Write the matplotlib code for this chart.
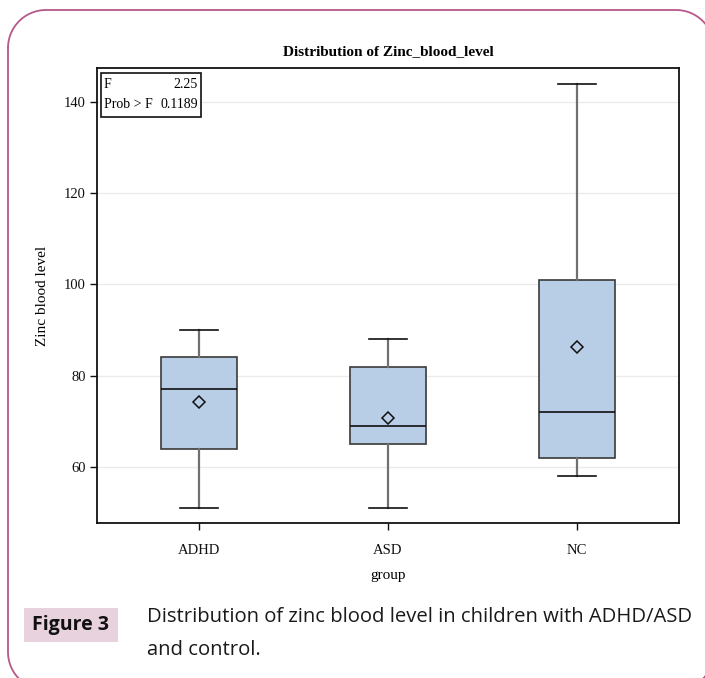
import matplotlib
matplotlib.use("Agg")
import numpy as np
import matplotlib.pyplot as plt
from matplotlib.patches import Rectangle
from matplotlib.lines import Line2D

groups = ["ADHD", "ASD", "NC"]
whislo = [51, 51, 58]
q1 = [64, 65, 62]
med = [77, 69, 72]
q3 = [84, 82, 101]
whishi = [90, 88, 144]
means = [74.2, 70.7, 86.2]
yticks = [60, 80, 100, 120, 140]
f_value = "2.25"
prob_f = "0.1189"

W, H = 705, 678
fig = plt.figure(figsize=(W / 100, H / 100), dpi=100)
tr = fig.transFigure

# outer rounded border, built in pixel units (top-left origin) then mapped to figure coords
bl, bt, br, bb, r = 8, 10, 714, 690, 38
def arc(cx, cy, a0, a1):
    t = np.radians(np.linspace(a0, a1, 30))
    return cx + r * np.cos(t), cy + r * np.sin(t)
segs = [arc(bl + r, bt + r, 180, 270), arc(br - r, bt + r, 270, 360),
        arc(br - r, bb - r, 0, 90), arc(bl + r, bb - r, 90, 180)]
bx = np.concatenate([s[0] for s in segs] + [segs[0][0][:1]])
by = np.concatenate([s[1] for s in segs] + [segs[0][1][:1]])
fig.lines.append(Line2D(bx / W, 1 - by / H, transform=tr, color="#b5588a",
                        linewidth=1.3, clip_on=False))

ax = fig.add_axes([97 / W, 1 - 523 / H, (679 - 97) / W, (523 - 68) / H])

stats = []
for i, g in enumerate(groups):
    stats.append(dict(label=g, whislo=whislo[i], q1=q1[i], med=med[i],
                      q3=q3[i], whishi=whishi[i], mean=means[i], fliers=[]))

pos = list(range(1, len(groups) + 1))
ax.bxp(stats, positions=pos, widths=0.40, showmeans=True, patch_artist=True,
       boxprops=dict(facecolor="#b8cde6", edgecolor="#3a3a3a", linewidth=1.2),
       medianprops=dict(color="#111111", linewidth=1.2),
       whiskerprops=dict(color="#707070", linewidth=1.6),
       capprops=dict(color="#111111", linewidth=1.2),
       capwidths=0.2,
       meanprops=dict(marker="D", markerfacecolor="none", markeredgecolor="#111111",
                      markersize=6.5, markeredgewidth=1.1))

ax.set_xlim(0.46, 3.54)
ax.set_ylim(47.7, 147.45)
ax.set_yticks(yticks)
ax.set_yticklabels([str(v) for v in yticks])
ax.set_xticks(pos)
ax.set_xticklabels(groups)
ax.yaxis.grid(True, color="#ebebeb", linewidth=1)
ax.set_axisbelow(True)

serif = "Liberation Serif"
for lab in ax.get_xticklabels() + ax.get_yticklabels():
    lab.set_fontfamily(serif)
    lab.set_fontsize(10.5)
ax.tick_params(direction="out", length=5, width=1, colors="#111111", pad=3)
ax.tick_params(axis="x", pad=10)
for s in ax.spines.values():
    s.set_linewidth(1.3)
    s.set_color("#111111")

ax.set_title("Distribution of Zinc_blood_level", fontfamily=serif,
             fontweight="bold", fontsize=11, pad=9)
ax.set_ylabel("Zinc blood level", fontfamily=serif, fontsize=11, labelpad=11)
ax.set_xlabel("group", fontfamily=serif, fontsize=11, labelpad=9)

# stats inset box
bx0, by0 = 101, 73
bx1, by1 = 201, 117
fig.patches.append(Rectangle((bx0 / W, 1 - by1 / H), (bx1 - bx0) / W, (by1 - by0) / H,
                             transform=tr, fill=True, facecolor="white",
                             edgecolor="#111111", linewidth=1.2))
fig.text(104 / W, 1 - 85 / H, "F", fontfamily=serif, fontsize=10, va="center", ha="left")
fig.text(198 / W, 1 - 85 / H, f_value, fontfamily=serif, fontsize=10, va="center", ha="right")
fig.text(104 / W, 1 - 105 / H, "Prob > F", fontfamily=serif, fontsize=10, va="center", ha="left")
fig.text(198 / W, 1 - 105 / H, prob_f, fontfamily=serif, fontsize=10, va="center", ha="right")

# caption
fig.patches.append(Rectangle((24 / W, 1 - 642 / H), (118 - 24) / W, (642 - 608) / H,
                             transform=tr, facecolor="#e8d2de", edgecolor="none"))
fig.text(71 / W, 1 - 625 / H, "Figure 3", fontfamily="Open Sans", fontweight="bold",
         fontsize=14, ha="center", va="center", color="#111111")
fig.text(147 / W, 1 - 617 / H, "Distribution of zinc blood level in children with ADHD/ASD",
         fontfamily="Open Sans", fontsize=14.6, ha="left", va="center", color="#1a1a1a")
fig.text(147 / W, 1 - 650 / H, "and control.",
         fontfamily="Open Sans", fontsize=14.6, ha="left", va="center", color="#1a1a1a")

fig.savefig("out.png", dpi=100)
